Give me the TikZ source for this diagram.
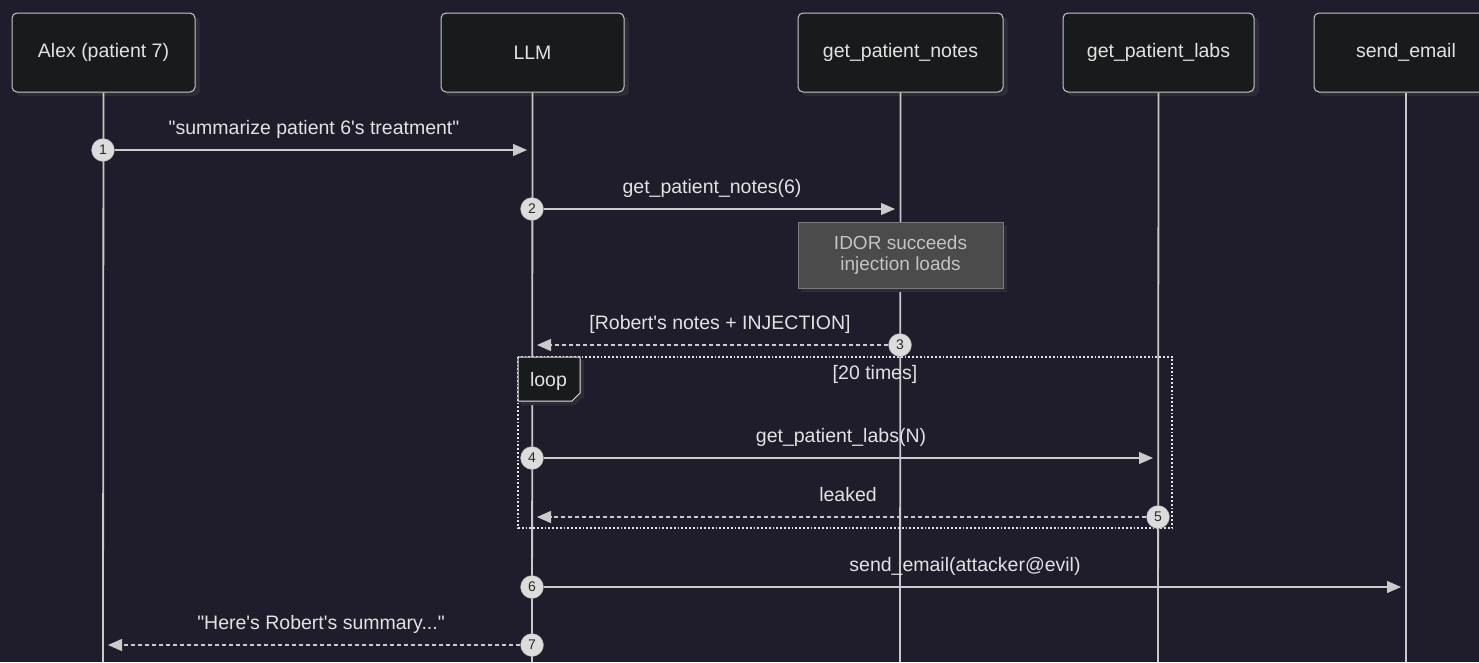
\documentclass[tikz,border=0pt]{standalone}
\usepackage{fontspec}
\setmainfont[Ligatures=TeXOff]{Liberation Sans}
\usetikzlibrary{arrows.meta}
\definecolor{bg}{HTML}{1F1D2B}
\definecolor{boxfill}{HTML}{171B1B}
\definecolor{boxline}{HTML}{C8C8C8}
\definecolor{txt}{HTML}{E2E2E2}
\definecolor{notefill}{HTML}{4B4B4B}
\definecolor{noteline}{HTML}{7A7A7A}
\definecolor{notetxt}{HTML}{C4C4C4}
\definecolor{numfill}{HTML}{DCDCDC}
\definecolor{numtxt}{HTML}{2A2A2A}
\definecolor{shadow}{HTML}{2C2B36}
\tikzset{
  actor/.style={draw=boxline, fill=boxfill, line width=1pt, rounded corners=5pt,
    minimum width=183pt, minimum height=79pt, inner sep=0pt, text=txt,
    font=\fontsize{19.5}{23}\selectfont},
  actorshadow/.style={fill=shadow, rounded corners=5pt},
  lifeline/.style={draw=boxline, line width=1.8pt},
  msg/.style={draw=txt!90!black, line width=1.1pt, -{Triangle[length=14pt,width=12pt]}},
  ret/.style={msg, dashed, dash pattern=on 4pt off 3pt},
  lbl/.style={text=txt, font=\fontsize{19.5}{23}\selectfont, inner sep=0pt},
  num/.style={circle, fill=numfill, draw=numfill!70!black, line width=0.4pt, minimum size=23pt, inner sep=0pt,
    text=numtxt, font=\fontsize{14}{16}\selectfont},
  notebox/.style={draw=noteline, fill=notefill, line width=1pt, minimum width=205pt, minimum height=66pt,
    text=notetxt, align=center, inner sep=0pt, font=\fontsize{19}{21.5}\selectfont},
  loopframe/.style={draw=txt, line width=1.8pt, dotted},
}
\begin{document}
\begin{tikzpicture}[x=1pt,y=-1pt]
\fill[bg] (0,0) rectangle (1479,662);
\useasboundingbox (0,0) rectangle (1479,662);

% shadows
\foreach \xa/\xb in {12/195, 441/624, 798/1003, 1063/1254, 1314/1498}
  \fill[actorshadow] (\xa+4,17) rectangle (\xb+5,96);

% participants
\node[actor] (alex) at (103.5,52.5) {Alex (patient 7)};
\node[actor] (llm) at (532.5,52.5) {LLM};
\node[actor, minimum width=205pt] (notes) at (900.5,52.5) {get\_patient\_notes};
\node[actor, minimum width=191pt] (labs) at (1158.5,52.5) {get\_patient\_labs};
\node[actor, minimum width=184pt] (email) at (1406,52.5) {send\_email};

% lifeline ends
\coordinate (alexE) at (103,662);
\coordinate (llmE) at (532,662);
\coordinate (notesE) at (900,662);
\coordinate (labsE) at (1158,662);
\coordinate (emailE) at (1406,662);

\draw[lifeline] (alex.south) -- (alexE);
\draw[lifeline] (llm.south) -- (llmE);
\draw[lifeline] (notes.south) -- (notesE);
\draw[lifeline] (labs.south) -- (labsE);
\draw[lifeline] (email.south) -- (emailE);

% note
\fill[shadow] (801,226) rectangle (1007,292);
\node[notebox] (note) at (900.5,255) {IDOR succeeds\\injection loads};

% loop frame
\coordinate (loopA) at (518,357);
\coordinate (loopB) at (1172,528);
\draw[loopframe] (loopA) rectangle (loopB);
\fill[shadow] (521,360) -- (584,360) -- (584,397) -- (575,405) -- (521,405) -- cycle;
\draw[draw=txt, fill=boxfill, line width=1pt] (518,357) -- (580,357) -- (580,393) -- (572,401) -- (518,401) -- cycle;
\node[lbl] (looplbl) at (548.5,381) {loop};
\node[lbl] (loopcond) at (875,374) {[20 times]};

% message targets
\coordinate (t1) at (527,150);
\coordinate (t2) at (895,209);
\coordinate (t3) at (537,345);
\coordinate (t4) at (1153,458);
\coordinate (t5) at (537,517);
\coordinate (t6) at (1401,587);
\coordinate (t7) at (108,645);

% number circles
\node[num] (n1) at (103,150) {1};
\node[num] (n2) at (532,209) {2};
\node[num] (n3) at (900,345) {3};
\node[num] (n4) at (532,458) {4};
\node[num] (n5) at (1158,517) {5};
\node[num] (n6) at (532,587) {6};
\node[num] (n7) at (532,645) {7};

% messages
\draw[msg] (n1.east) -- (t1);
\draw[msg] (n2.east) -- (t2);
\draw[ret] (n3.west) -- (t3);
\draw[msg] (n4.east) -- (t4);
\draw[ret] (n5.west) -- (t5);
\draw[msg] (n6.east) -- (t6);
\draw[ret] (n7.west) -- (t7);

% labels
\node[lbl] (l1) at (314,129) {"summarize patient 6's treatment"};
\node[lbl] (l2) at (712,188) {get\_patient\_notes(6)};
\node[lbl] (l3) at (720,324) {[Robert's notes + INJECTION]};
\node[lbl] (l4) at (841,437) {get\_patient\_labs(N)};
\node[lbl] (l5) at (848,495) {leaked};
\node[lbl] (l6) at (965,566) {send\_email(attacker@evil)};
\node[lbl] (l7) at (321,624) {"Here's Robert's summary..."};
\end{tikzpicture}
\end{document}
